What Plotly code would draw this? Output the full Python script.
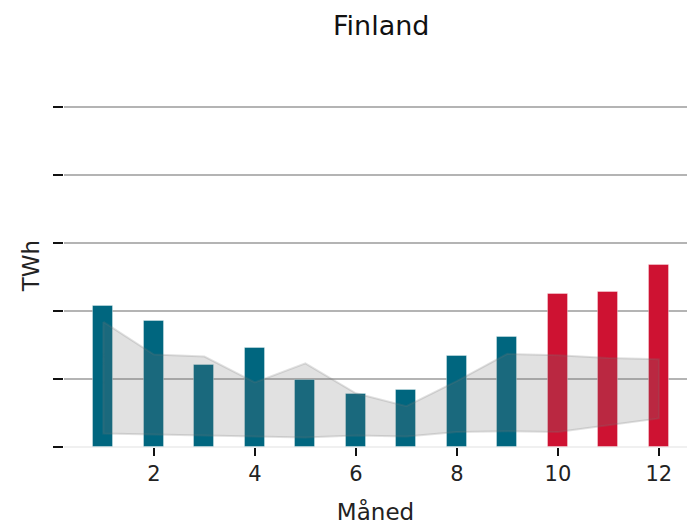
import plotly.graph_objects as go

# Monthly values, TWh
months = [1, 2, 3, 4, 5, 6, 7, 8, 9, 10, 11, 12]
production = [1.04, 0.925, 0.60, 0.73, 0.49, 0.39, 0.42, 0.67, 0.81, 1.125, 1.14, 1.34]
band_max = [0.92, 0.68, 0.665, 0.475, 0.615, 0.395, 0.30, 0.485, 0.685, 0.675, 0.655, 0.645]
band_min = [0.10, 0.094, 0.087, 0.077, 0.069, 0.085, 0.078, 0.11, 0.116, 0.11, 0.16, 0.21]
forecast_from = 10  # months from here on are drawn in red

x_ticks = [2, 4, 6, 8, 10, 12]
y_ticks = [0, 0.5, 1.0, 1.5, 2.0, 2.5]

TEAL = "#00667f"
RED = "#ce1232"
FONT = "DejaVu Sans"

bar_colors = [RED if m >= forecast_from else TEAL for m in months]

fig = go.Figure()

fig.add_trace(go.Bar(
    x=months,
    y=production,
    width=0.4,
    marker=dict(color=bar_colors, line=dict(color="rgba(255,255,255,0.35)", width=1)),
    hoverinfo="x+y",
    showlegend=False,
))

# min/max range as one closed polygon drawn over the bars
poly_x = months + months[::-1]
poly_y = band_max + band_min[::-1]
fig.add_trace(go.Scatter(
    x=poly_x + [poly_x[0]],
    y=poly_y + [poly_y[0]],
    mode="lines",
    fill="toself",
    fillcolor="rgba(120,120,120,0.22)",
    line=dict(color="rgba(120,120,120,0.22)", width=2),
    hoverinfo="skip",
    showlegend=False,
))

fig.update_layout(
    width=687,
    height=525,
    margin=dict(l=64, r=0, t=84, b=78),
    paper_bgcolor="white",
    plot_bgcolor="white",
    font=dict(family=FONT, color="#222222"),
    bargap=0,
    title=dict(
        text="Finland",
        x=0.555, xanchor="center",
        y=0.952, yanchor="middle",
        font=dict(family=FONT, size=27, color="#111111"),
    ),
)

fig.update_xaxes(
    range=[0.22, 12.557],
    tickmode="array",
    tickvals=x_ticks,
    ticks="outside",
    ticklen=8,
    tickwidth=1.5,
    tickcolor="#111111",
    tickfont=dict(family=FONT, size=21, color="#222222"),
    showgrid=False,
    showline=False,
    zeroline=False,
    title=dict(text="Måned", font=dict(family=FONT, size=23, color="#222222"), standoff=22),
)

fig.update_yaxes(
    range=[0, 2.67],
    tickmode="array",
    tickvals=y_ticks,
    ticks="outside",
    ticklen=10,
    tickwidth=2,
    tickcolor="#111111",
    showticklabels=False,
    showgrid=True,
    gridcolor="#b4b4b4",
    gridwidth=1.5,
    zeroline=True,
    zerolinecolor="#f0f0f0",
    zerolinewidth=1.5,
    showline=False,
    title=dict(text="TWh", font=dict(family=FONT, size=23, color="#222222"), standoff=6),
)

fig.write_html("out.html")
